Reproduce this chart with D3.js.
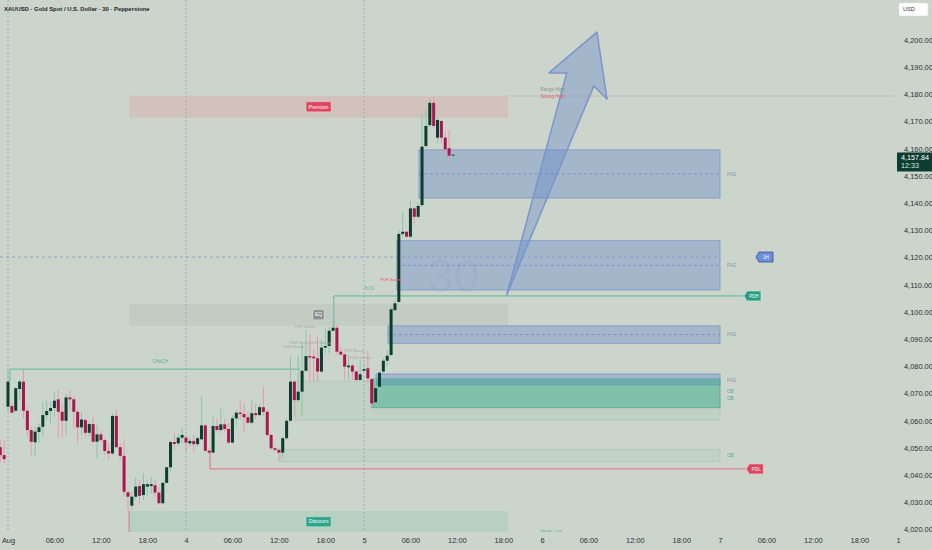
<!DOCTYPE html>
<html>
<head>
<meta charset="utf-8">
<script src="https://cdn.jsdelivr.net/npm/d3@7"></script>
<style>
  html, body { margin: 0; padding: 0; background: #ccd5cb; }
  svg { display: block; font-family: "Liberation Sans", Arial, sans-serif; }
</style>
</head>
<body>
<svg id="chart" width="932" height="550"></svg>
<script>
// 30 minute bars, first one sits two bars left of the "Aug" tick
var firstBar = -2;

var opens = [
  4050.3, 4047.4, 4065.2, 4065.4, 4063.7, 4071.7, 4074.4, 4063.7, 4056.6, 4052.1,
  4055.9, 4057.8, 4062.1, 4063.6, 4064.7, 4067.9, 4063.3, 4060.0, 4068.6, 4067.9,
  4063.3, 4057.6, 4060.3, 4055.6, 4058.8, 4052.3, 4055.0, 4052.9, 4048.9, 4048.0,
  4061.8, 4050.3, 4047.1, 4033.7, 4028.8, 4032.1, 4036.0, 4032.7, 4035.8, 4036.0,
  4036.3, 4033.6, 4029.7, 4037.2, 4042.9, 4052.2, 4051.7, 4053.8, 4053.8, 4051.7,
  4052.6, 4051.4,
  4053.2, 4058.3, 4049.0, 4048.3, 4058.1, 4056.6, 4058.7, 4057.0, 4052.0, 4060.9,
  4063.0, 4062.5, 4061.3, 4059.3, 4062.8, 4062.1, 4065.0, 4063.3, 4054.8, 4049.9,
  4049.3, 4048.3, 4053.6, 4060.0, 4074.4, 4067.6, 4070.7, 4078.4, 4083.8, 4083.6,
  4083.0, 4078.1, 4086.9, 4087.5, 4093.1, 4094.2, 4085.4, 4084.4, 4079.7, 4080.3,
  4078.1, 4075.0, 4078.4, 4079.3,
  4075.3, 4066.8, 4072.5, 4078.1, 4082.1, 4084.2, 4100.7, 4103.7, 4128.7, 4129.5,
  4127.7, 4138.1, 4135.0, 4139.3, 4161.0, 4168.7, 4176.9, 4164.1, 4170.2, 4164.1,
  4160.2, 4157.5
];
var highs = [
  4052.9, 4052.9, 4078.9, 4066.4, 4072.5, 4075.0, 4078.7, 4065.2, 4057.8, 4057.8,
  4059.1, 4067.0, 4067.6, 4067.0, 4070.7, 4071.3, 4066.4, 4070.1, 4071.3, 4068.9,
  4064.0, 4063.3, 4060.9, 4059.7, 4061.5, 4058.5, 4056.0, 4053.6, 4051.7, 4062.8,
  4064.2, 4051.7, 4053.3, 4034.6, 4033.9, 4039.2, 4038.2, 4040.7, 4038.2, 4039.4,
  4038.2, 4035.8, 4037.6, 4043.1, 4052.9, 4055.4, 4055.4, 4057.6, 4054.8, 4053.6,
  4054.8, 4054.2,
  4068.9, 4058.8, 4050.0, 4061.5, 4060.9, 4065.0, 4060.5, 4059.1, 4062.1, 4064.0,
  4067.6, 4066.4, 4063.3, 4067.6, 4066.4, 4066.2, 4072.3, 4064.0, 4055.4, 4050.5,
  4049.9, 4054.2, 4060.9, 4083.6, 4074.8, 4084.2, 4088.5, 4093.4, 4091.6, 4086.3,
  4090.9, 4089.7, 4094.6, 4094.4, 4095.2, 4095.2, 4087.2, 4084.8, 4084.2, 4081.1,
  4078.7, 4082.4, 4081.1, 4086.0,
  4075.6, 4076.8, 4078.1, 4083.0, 4086.0, 4101.9, 4104.4, 4130.1, 4136.5, 4129.9,
  4140.9, 4138.7, 4140.0, 4172.8, 4174.3, 4178.6, 4179.2, 4171.2, 4170.6, 4166.9,
  4166.9, 4159.6
];
var lows = [
  4044.6, 4044.4, 4063.3, 4062.8, 4063.3, 4067.6, 4060.9, 4054.2, 4047.1, 4046.8,
  4051.7, 4054.2, 4060.3, 4059.1, 4061.5, 4053.6, 4053.6, 4054.8, 4064.0, 4057.2,
  4051.7, 4054.8, 4054.2, 4054.2, 4051.7, 4046.2, 4052.3, 4047.4, 4045.6, 4047.4,
  4049.9, 4045.6, 4032.1, 4027.2, 4027.2, 4030.9, 4029.7, 4030.9, 4032.1, 4033.3,
  4032.1, 4029.1, 4029.1, 4037.0, 4041.3, 4049.3, 4050.5, 4051.7, 4048.6, 4050.5,
  4048.6, 4050.5,
  4052.9, 4048.6, 4047.4, 4048.2, 4056.0, 4055.4, 4056.0, 4051.5, 4051.5, 4057.8,
  4060.3, 4056.0, 4058.8, 4058.5, 4060.5, 4061.8, 4061.8, 4054.2, 4049.3, 4048.6,
  4044.9, 4046.2, 4052.9, 4059.7, 4061.5, 4067.0, 4061.5, 4078.1, 4074.4, 4074.4,
  4074.4, 4077.5, 4084.8, 4084.8, 4093.1, 4084.2, 4083.8, 4075.3, 4075.3, 4075.0,
  4074.4, 4074.8, 4078.1, 4073.8,
  4065.2, 4065.8, 4071.3, 4077.2, 4079.9, 4083.6, 4100.1, 4103.2, 4127.7, 4127.1,
  4127.1, 4132.0, 4134.4, 4138.7, 4160.5, 4168.1, 4167.5, 4162.0, 4162.0, 4158.4,
  4154.9, 4154.0
];
var closes = [
  4047.4, 4045.9, 4074.4, 4063.0, 4072.0, 4074.4, 4063.7, 4056.6, 4052.3, 4056.0,
  4057.6, 4062.1, 4063.6, 4064.7, 4067.4, 4063.3, 4060.0, 4068.6, 4067.9, 4063.3,
  4057.6, 4060.5, 4055.6, 4058.8, 4052.3, 4055.0, 4052.9, 4048.9, 4048.0, 4061.8,
  4050.3, 4047.1, 4033.9, 4032.1, 4032.1, 4035.8, 4032.4, 4036.7, 4036.7, 4036.7,
  4033.6, 4029.7, 4037.2, 4042.9, 4052.2, 4051.5, 4053.8, 4054.8, 4052.0, 4052.6,
  4051.4, 4053.6,
  4058.3, 4049.0, 4048.3, 4058.1, 4056.6, 4058.7, 4057.0, 4052.0, 4060.9, 4063.0,
  4062.5, 4061.3, 4059.3, 4062.8, 4062.1, 4065.0, 4063.3, 4054.8, 4049.9, 4049.3,
  4048.3, 4053.6, 4060.0, 4074.4, 4067.6, 4070.7, 4078.4, 4083.8, 4083.3, 4083.0,
  4078.1, 4086.9, 4087.5, 4093.1, 4094.2, 4085.4, 4084.4, 4079.9, 4080.3, 4078.1,
  4075.0, 4077.1, 4079.0, 4075.6,
  4066.4, 4072.0, 4077.7, 4082.1, 4083.9, 4101.0, 4103.2, 4128.7, 4129.5, 4127.7,
  4138.1, 4135.0, 4139.0, 4160.8, 4168.4, 4176.9, 4168.4, 4170.6, 4164.1, 4159.8,
  4157.5, 4157.84
];

var tickIndex = [0, 12, 24, 36, 46, 58, 70, 82, 92, 104, 116, 128, 138, 150, 162, 174, 184, 196, 208, 220, 230];
var tickLabels = ["Aug", "06:00", "12:00", "18:00", "4", "06:00", "12:00", "18:00", "5", "06:00", "12:00", "18:00",
                  "6", "06:00", "12:00", "18:00", "7", "06:00", "12:00", "18:00", "1"];
var priceTicks = d3.range(4020, 4201, 10);
var sessionBreaks = [0, 46, 92];
var lastPrice = 4157.84, lastTime = "12:33";

// premium / equilibrium / discount bands
var pdZones = [
  { label: "Premium", i0: 31.3, i1: 129.2, hi: 4179.5, lo: 4171.4, fill: "rgba(222,148,148,0.27)", tag: "#e0455f" },
  { label: "EQ", i0: 31.3, i1: 129.2, hi: 4103.0, lo: 4095.0, fill: "rgba(150,160,150,0.16)", tag: "#8c9190" },
  { label: "Discount", i0: 31.3, i1: 129.2, hi: 4026.8, lo: 4010, fill: "rgba(100,190,160,0.2)", tag: "#2ea58b" }
];
var fvgZones = [
  { i0: 106.2, hi: 4159.6, lo: 4141.9, mid: true },
  { i0: 100.5, hi: 4126.2, lo: 4108.1, mid: true },
  { i0: 98.2, hi: 4094.9, lo: 4088.5, mid: true },
  { i0: 95.1, hi: 4077.2, lo: 4073.2, mid: false }
];
var obZones = [
  { i0: 74.2, hi: 4074.6, lo: 4060.3, strong: false },
  { i0: 70.3, hi: 4049.5, lo: 4045.0, strong: false },
  { i0: 94.0, hi: 4075.4, lo: 4064.8, strong: true }
];
var zoneEnd = 184;
var fvgLabelPrices = [4150.7, 4117.3, 4091.9, 4075.0];
var obLabelPrices = [4070.9, 4068.3, 4047.3];

var pdh = 4105.9, pdl = 4042.3, choch = 4079.0, rangeHigh = 4179.4, crossPrice = 4120.2;
var arrowPts = [[128.9, 4106.3], [144.4, 4187.9], [139.8, 4187.9], [152.2, 4202.9], [154.8, 4178.3], [151.4, 4183.1]];
var sweepNotes = [[74.0, 4094.6], [72.9, 4088.7], [71.1, 4087.2], [78.0, 4088.7], [86.8, 4085.9], [88.4, 4083.3]];

var W = 932, H = 550, plotW = 895, plotH = 532;
var x = d3.scaleLinear().domain([0, 230]).range([8, 898]);
var y = d3.scaleLinear().domain([4020, 4200]).range([529.6, 40]);

var svg = d3.select("#chart");
svg.append("rect").attr("width", W).attr("height", H).attr("fill", "#ccd5cb");
svg.append("defs").append("clipPath").attr("id", "plot")
  .append("rect").attr("width", plotW).attr("height", plotH);
var plot = svg.append("g").attr("clip-path", "url(#plot)");

// session separators
plot.selectAll(".sess").data(sessionBreaks).enter().append("line")
  .attr("x1", function(d) { return x(d); }).attr("x2", function(d) { return x(d); })
  .attr("y1", 0).attr("y2", plotH)
  .attr("stroke", "#8fa3c6").attr("stroke-width", 1).attr("stroke-dasharray", "1.5,2.5");

// range high line
plot.append("line").attr("x1", x(129)).attr("x2", plotW).attr("y1", y(rangeHigh)).attr("y2", y(rangeHigh))
  .attr("stroke", "#b7beb7").attr("stroke-width", 0.8);

// pd zones
plot.selectAll(".pd").data(pdZones).enter().append("rect")
  .attr("x", function(d) { return x(d.i0); }).attr("width", function(d) { return x(d.i1) - x(d.i0); })
  .attr("y", function(d) { return y(d.hi); }).attr("height", function(d) { return y(d.lo) - y(d.hi); })
  .attr("fill", function(d) { return d.fill; });

// light OB zones
var obs = plot.append("g");
obs.selectAll("rect").data(obZones.filter(function(d) { return !d.strong; })).enter().append("rect")
  .attr("x", function(d) { return x(d.i0); }).attr("width", function(d) { return x(zoneEnd) - x(d.i0); })
  .attr("y", function(d) { return y(d.hi); }).attr("height", function(d) { return y(d.lo) - y(d.hi); })
  .attr("fill", "rgba(120,195,165,0.13)").attr("stroke", "rgba(110,180,150,0.3)").attr("stroke-width", 0.8);

// fvg zones
var fv = plot.append("g");
fv.selectAll("rect").data(fvgZones).enter().append("rect")
  .attr("x", function(d) { return x(d.i0); }).attr("width", function(d) { return x(zoneEnd) - x(d.i0); })
  .attr("y", function(d) { return y(d.hi); }).attr("height", function(d) { return y(d.lo) - y(d.hi); })
  .attr("fill", "rgba(90,130,200,0.35)").attr("stroke", "#7d94c8").attr("stroke-width", 0.8);
fv.selectAll("line").data(fvgZones.filter(function(d) { return d.mid; })).enter().append("line")
  .attr("x1", function(d) { return x(d.i0); }).attr("x2", x(zoneEnd))
  .attr("y1", function(d) { return y((d.hi + d.lo) / 2); }).attr("y2", function(d) { return y((d.hi + d.lo) / 2); })
  .attr("stroke", "#7088c4").attr("stroke-width", 0.8).attr("stroke-dasharray", "3,2.5");

// strong OB on top
var strong = obZones.filter(function(d) { return d.strong; });
plot.selectAll(".obs").data(strong).enter().append("rect")
  .attr("x", function(d) { return x(d.i0); }).attr("width", function(d) { return x(zoneEnd) - x(d.i0); })
  .attr("y", function(d) { return y(d.hi); }).attr("height", function(d) { return y(d.lo) - y(d.hi); })
  .attr("fill", "rgba(50,170,140,0.45)").attr("stroke", "#5aa994").attr("stroke-width", 0.8);

// watermark-ish "30"
plot.append("text").attr("x", x(108.5)).attr("y", y(4107.5)).attr("font-size", 46)
  .attr("fill", "rgba(120,140,190,0.14)").text("30");

// crosshair level
plot.append("line").attr("x1", 0).attr("x2", x(zoneEnd)).attr("y1", y(crossPrice)).attr("y2", y(crossPrice))
  .attr("stroke", "#7f93c8").attr("stroke-width", 0.8).attr("stroke-dasharray", "3,3");

// structure lines
var line = d3.line().x(function(d) { return x(d[0]); }).y(function(d) { return y(d[1]); });
plot.append("path").attr("d", line([[0.5, 4074.6], [0.5, choch], [75.5, choch]]))
  .attr("fill", "none").attr("stroke", "#5fb89a").attr("stroke-width", 1);
plot.append("path").attr("d", line([[84.2, 4093.0], [84.2, pdh], [190.2, pdh]]))
  .attr("fill", "none").attr("stroke", "#5fb89a").attr("stroke-width", 1);
plot.append("path").attr("d", line([[52.2, 4049.0], [52.2, pdl], [190.8, pdl]]))
  .attr("fill", "none").attr("stroke", "#e0707f").attr("stroke-width", 1);
plot.append("line").attr("x1", x(31.3)).attr("x2", x(31.3)).attr("y1", y(4027)).attr("y2", plotH)
  .attr("stroke", "#e0707f").attr("stroke-width", 1);

// candles
var bars = opens.map(function(o, k) {
  return { i: firstBar + k, o: o, h: highs[k], l: lows[k], c: closes[k] };
});
var cg = plot.append("g");
cg.selectAll("line").data(bars).enter().append("line")
  .attr("x1", function(d) { return x(d.i); }).attr("x2", function(d) { return x(d.i); })
  .attr("y1", function(d) { return y(d.h); }).attr("y2", function(d) { return y(d.l); })
  .attr("stroke", function(d) { return d.c >= d.o ? "#86c6ad" : "#e999a6"; }).attr("stroke-width", 1);
cg.selectAll("rect").data(bars).enter().append("rect")
  .attr("x", function(d) { return x(d.i) - 1.5; }).attr("width", 3)
  .attr("y", function(d) { return y(Math.max(d.o, d.c)); })
  .attr("height", function(d) { return Math.max(0.8, Math.abs(y(d.o) - y(d.c))); })
  .attr("fill", function(d) { return d.c >= d.o ? "#0d3c31" : "#a8174f"; });

// arrow
plot.append("path").attr("d", line(arrowPts) + "Z")
  .attr("fill", "rgba(105,135,200,0.4)").attr("stroke", "#7a94cc").attr("stroke-width", 1.5)
  .attr("stroke-linejoin", "round");

// zone tags
var tg = plot.selectAll(".pdtag").data(pdZones).enter().append("g")
  .attr("transform", function(d) { return "translate(" + x((d.i0 + d.i1) / 2) + "," + y((d.hi + Math.max(d.lo, 4019)) / 2) + ")"; });
tg.append("rect").attr("x", function(d) { return d.label === "EQ" ? -5.5 : -12.5; })
  .attr("width", function(d) { return d.label === "EQ" ? 11 : 25; })
  .attr("y", -5).attr("height", 10).attr("rx", 1)
  .attr("fill", function(d) { return d.tag; }).attr("stroke", "rgba(255,255,255,0.5)").attr("stroke-width", 0.6);
tg.append("text").attr("text-anchor", "middle").attr("dy", "0.35em").attr("font-size", 5)
  .attr("fill", "#fff").text(function(d) { return d.label; });

// small texts
var small = plot.append("g").attr("font-size", 4.6);
small.selectAll(".fl").data(fvgLabelPrices).enter().append("text")
  .attr("x", x(185.8)).attr("y", function(d) { return y(d); }).attr("dy", "0.35em")
  .attr("fill", "#7f8ea8").text("FVG");
small.selectAll(".ol").data(obLabelPrices).enter().append("text")
  .attr("x", x(185.8)).attr("y", function(d) { return y(d); }).attr("dy", "0.35em")
  .attr("fill", "#4fa88f").text("OB");
small.append("text").attr("x", x(39.3)).attr("y", y(4082)).attr("dy", "0.35em").attr("text-anchor", "middle")
  .attr("fill", "#4fae92").text("CHoCH");
small.append("text").attr("x", x(93.3)).attr("y", y(4108.5)).attr("dy", "0.35em").attr("text-anchor", "middle")
  .attr("fill", "#6fbfa2").text("BOS");
small.append("text").attr("x", x(96.2)).attr("y", y(4111.8)).attr("dy", "0.35em")
  .attr("fill", "#e25c6c").attr("font-size", 4).text("PDH Sweep");
small.selectAll(".sw").data(sweepNotes).enter().append("text")
  .attr("x", function(d) { return x(d[0]); }).attr("y", function(d) { return y(d[1]); }).attr("dy", "0.35em")
  .attr("font-size", 3.8).attr("fill", "#a3aba3").text("PDH Sweep");
small.append("text").attr("x", x(137.6)).attr("y", y(4182.0)).attr("dy", "0.35em")
  .attr("fill", "#8b918b").text("Range High");
small.append("text").attr("x", x(137.6)).attr("y", y(4179.3)).attr("dy", "0.35em")
  .attr("fill", "#e25c6c").text("Strong High");
small.append("text").attr("x", x(137.6)).attr("y", y(4019.2)).attr("dy", "0.35em")
  .attr("fill", "#5fb89a").text("Weak Low");

// side tags with pointer
function sideTag(i, price, w, fill, stroke, label) {
  var g = plot.append("g").attr("transform", "translate(" + x(i) + "," + y(price) + ")");
  g.append("path").attr("d", "M0,0 L3,-5 L" + (w + 3) + ",-5 L" + (w + 3) + ",5 L3,5 Z")
    .attr("fill", fill).attr("stroke", stroke).attr("stroke-width", 0.7);
  g.append("text").attr("x", 3 + w / 2).attr("dy", "0.35em").attr("text-anchor", "middle")
    .attr("font-size", 4.6).attr("fill", "#fff").text(label);
}
sideTag(190.2, pdh, 14, "#2a9d80", "#c8e8dc", "PDH");
sideTag(190.8, pdl, 14, "#e0455f", "#f3c0c8", "PDL");
sideTag(193.3, crossPrice, 14, "#6f8fdb", "#2a3f8f", "1H");

// axes
var yAxis = svg.append("g").attr("transform", "translate(900,0)")
  .call(d3.axisRight(y).tickValues(priceTicks).tickSize(0).tickPadding(4).tickFormat(d3.format(",.2f")));
yAxis.select(".domain").remove();
yAxis.selectAll("text").attr("font-family", "Liberation Sans, Arial, sans-serif")
  .attr("font-size", 7.4).attr("fill", "#2b2f36");

var xAxis = svg.append("g").attr("transform", "translate(0,534)")
  .call(d3.axisBottom(x).tickValues(tickIndex).tickSize(0).tickPadding(4)
    .tickFormat(function(d, k) { return tickLabels[k]; }));
xAxis.select(".domain").remove();
xAxis.selectAll("text").attr("font-family", "Liberation Sans, Arial, sans-serif")
  .attr("font-size", 7.4).attr("fill", "#2b2f36");

// last price box, sitting just under the 4,160 tick
var lp = svg.append("g").attr("transform", "translate(897," + y(lastPrice) + ")");
lp.append("rect").attr("y", -2.2).attr("width", 35).attr("height", 19).attr("fill", "#0d3c31");
lp.append("text").attr("x", 4).attr("y", 2.6).attr("dy", "0.35em").attr("font-size", 7.2).attr("fill", "#fff")
  .text(d3.format(",.2f")(lastPrice));
lp.append("text").attr("x", 4).attr("y", 11.2).attr("dy", "0.35em").attr("font-size", 7.2).attr("fill", "#dfe8e3")
  .text(lastTime);

// USD badge
svg.append("rect").attr("x", 899).attr("y", 3).attr("width", 29).attr("height", 13).attr("rx", 2)
  .attr("fill", "#fff").attr("stroke", "#dfe3df").attr("stroke-width", 0.6);
svg.append("text").attr("x", 903).attr("y", 9.5).attr("dy", "0.35em").attr("font-size", 5.5)
  .attr("fill", "#2b2f36").text("USD");

// title
svg.append("text").attr("x", 4).attr("y", 10.5).attr("font-size", 5.9).attr("font-weight", 600)
  .attr("fill", "#1f2328").text("XAUUSD · Gold Spot / U.S. Dollar · 30 · Pepperstone");
</script>
</body>
</html>
